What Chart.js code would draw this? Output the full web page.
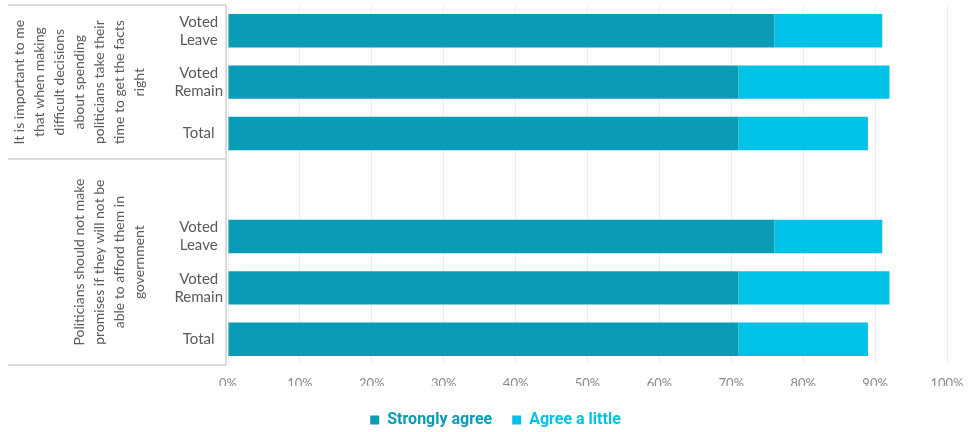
<!DOCTYPE html>
<html>
<head>
<meta charset="utf-8">
<script src="https://cdn.jsdelivr.net/npm/chart.js@4"></script>
<style>
  html, body { margin: 0; padding: 0; background: #fff; }
  #wrap { width: 970px; height: 432px; }
</style>
</head>
<body>
<div id="wrap"><canvas id="agreeChart"></canvas></div>
<script>
// 데이터
const categories = [['Voted', 'Leave'], ['Voted', 'Remain'], 'Total', '', ['Voted', 'Leave'], ['Voted', 'Remain'], 'Total'];
const stronglyAgree = [76, 71, 71, null, 76, 71, 71];
const agreeLittle = [15, 21, 18, null, 15, 21, 18];
const xTicks = [0, 10, 20, 30, 40, 50, 60, 70, 80, 90, 100];
const groupTexts = [
    ['It is important to me', 'that when making', 'difficult decisions', 'about spending', 'politicians take their', 'time to get the facts', 'right'],
    ['Politicians should not make', 'promises if they will not be', 'able to afford them in', 'government']
];
// 그룹 범위 (카테고리 인덱스)
const groupRanges = [[-0.5, 2.5], [2.5, 6.5]];

const darkTeal = '#0a9bb6';
const lightCyan = '#00c2e6';
const labelFont = "Lato, 'Open Sans', sans-serif";

// 왼쪽 그룹 박스 + 회전 텍스트
const groupBoxPlugin = {
    id: 'groupBox',
    afterLayout(chart) {
        // 범례 위치 보정
        chart.legend.left += 18;
        chart.legend.right += 18;
        chart.legend.top += 6;
        chart.legend.bottom += 6;
    },
    beforeDatasetsDraw(chart) {
        const ctx = chart.ctx;
        const y = chart.scales.y;
        const area = chart.chartArea;
        const boxLeft = 8;
        const boxRight = area.left - 2;
        ctx.save();
        ctx.strokeStyle = '#cfcfcf';
        ctx.lineWidth = 1.5;
        ctx.beginPath();
        ctx.moveTo(boxRight, area.top);
        ctx.lineTo(boxRight, area.bottom);
        groupRanges.forEach(r => {
            const yt = Math.round(y.getPixelForValue(r[0]));
            ctx.moveTo(boxLeft, yt);
            ctx.lineTo(boxRight, yt);
        });
        const yb = Math.round(y.getPixelForValue(groupRanges[1][1]));
        ctx.moveTo(boxLeft, yb);
        ctx.lineTo(boxRight, yb);
        ctx.stroke();

        // 회전 텍스트
        ctx.fillStyle = '#5a5a5a';
        ctx.font = '14px ' + labelFont;
        ctx.textAlign = 'center';
        ctx.textBaseline = 'middle';
        const lineGap = 20;
        const lastLineX = 139;
        groupTexts.forEach((lines, gi) => {
            const cy = (y.getPixelForValue(groupRanges[gi][0]) + y.getPixelForValue(groupRanges[gi][1])) / 2;
            lines.forEach((line, li) => {
                const x = lastLineX - (lines.length - 1 - li) * lineGap;
                ctx.save();
                ctx.translate(x, cy);
                ctx.rotate(-Math.PI / 2);
                ctx.fillText(line, 0, 0);
                ctx.restore();
            });
        });
        ctx.restore();
    }
};

new Chart(document.getElementById('agreeChart'), {
    type: 'bar',
    data: {
        labels: categories,
        datasets: [
            {
                label: 'Strongly agree',
                data: stronglyAgree,
                backgroundColor: darkTeal,
                categoryPercentage: 1,
                barPercentage: 0.65
            },
            {
                label: 'Agree a little',
                data: agreeLittle,
                backgroundColor: lightCyan,
                categoryPercentage: 1,
                barPercentage: 0.65
            }
        ]
    },
    options: {
        indexAxis: 'y',
        responsive: true,
        maintainAspectRatio: false,
        animation: false,
        layout: { padding: { left: 8, right: 23, top: 5, bottom: 0 } },
        scales: {
            x: {
                stacked: true,
                min: 0,
                max: 100,
                afterBuildTicks(scale) {
                    scale.ticks = xTicks.map(v => ({ value: v }));
                },
                afterFit(scale) {
                    scale.height = 21;
                    scale.paddingLeft = 0;
                    scale.paddingRight = 0;
                },
                grid: { color: '#ececec', drawTicks: false },
                border: { display: false },
                ticks: {
                    padding: 11,
                    color: '#8a8a8a',
                    font: { family: labelFont, size: 13 },
                    callback: v => v + '%'
                }
            },
            y: {
                stacked: true,
                afterFit(scale) {
                    scale.width = 220;
                    scale.paddingTop = 0;
                    scale.paddingBottom = 0;
                },
                grid: { display: false, drawTicks: false },
                border: { display: false },
                ticks: {
                    crossAlign: 'center',
                    padding: 5,
                    color: '#5a5a5a',
                    font: { family: labelFont, size: 15 }
                }
            }
        },
        plugins: {
            legend: {
                position: 'bottom',
                labels: {
                    boxWidth: 9,
                    boxHeight: 9,
                    padding: 20,
                    font: { family: "Roboto, sans-serif", size: 16, weight: 'bold' },
                    generateLabels(chart) {
                        return chart.data.datasets.map((ds, i) => ({
                            text: ds.label,
                            fillStyle: ds.backgroundColor,
                            strokeStyle: ds.backgroundColor,
                            fontColor: ds.backgroundColor,
                            lineWidth: 0,
                            hidden: false,
                            datasetIndex: i
                        }));
                    }
                }
            },
            tooltip: { enabled: false }
        }
    },
    plugins: [groupBoxPlugin]
});
</script>
</body>
</html>
